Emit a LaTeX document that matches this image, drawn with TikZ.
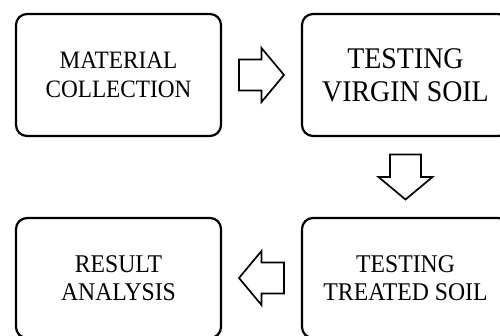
\documentclass[tikz,border=0pt]{standalone}
\usepackage{fontspec}
\setmainfont{Liberation Serif}[FakeStretch=0.93]
\usetikzlibrary{calc}
\tikzset{
  stagebox/.style={draw=black, line width=2.2pt, rounded corners=11pt, fill=white,
    align=center, inner sep=0pt, minimum height=122pt},
  flowarrow/.style={draw=black, line width=1.7pt, fill=white, line join=miter},
}
\newcommand{\blockarrow}[3]{%
  \draw[flowarrow, shift={($(#1)!0.5!(#2)$)}, rotate=#3]
    (-22.5,-15.5) -- (0,-15.5) -- (0,-27) -- (22.5,0) -- (0,27) -- (0,15.5) -- (-22.5,15.5) -- cycle;}
\begin{document}
\begin{tikzpicture}[x=1pt,y=1pt]
  \path[use as bounding box] (0,0) rectangle (500,336);
  \clip (0,0) rectangle (500,336);
  \node[stagebox, minimum width=205pt, font=\fontsize{25}{29}\selectfont] (m) at (118.5,261) {MATERIAL\\COLLECTION};
  \node[stagebox, minimum width=207pt, font=\fontsize{30}{33}\selectfont] (v) at (405.5,261) {TESTING\\VIRGIN SOIL};
  \node[stagebox, minimum width=207pt, minimum height=120pt, font=\fontsize{25.5}{28}\selectfont] (t) at (405.5,58) {TESTING\\TREATED SOIL};
  \node[stagebox, minimum width=205pt, minimum height=120pt, font=\fontsize{25.5}{28}\selectfont] (r) at (118.5,58) {RESULT\\ANALYSIS};
  \blockarrow{m.east}{v.west}{0}
  \blockarrow{v.south}{t.north}{-90}
  \blockarrow{t.west}{r.east}{180}
\end{tikzpicture}
\end{document}
